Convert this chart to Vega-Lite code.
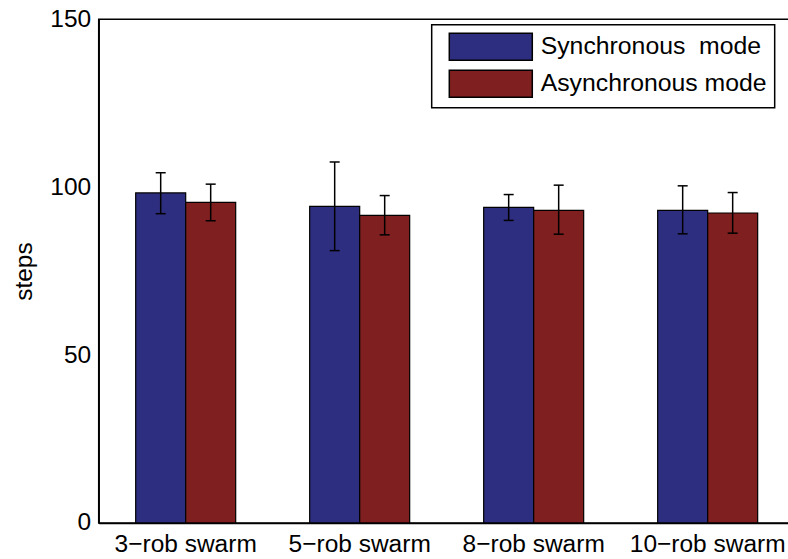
{
  "$schema": "https://vega.github.io/schema/vega-lite/v6.json",
  "autosize": {"type": "none"},
  "padding": {"left": 98.7, "top": 19.3, "right": 0, "bottom": 36.1},
  "width": 691,
  "height": 503.6,
  "background": "white",
  "config": {
    "font": "Liberation Sans",
    "view": {"stroke": "black", "strokeWidth": 1.5},
    "axis": {
      "labelFont": "Liberation Sans",
      "labelFontSize": 24.5,
      "labelColor": "black",
      "titleFont": "Liberation Sans",
      "titleFontSize": 24.5,
      "titleFontWeight": "normal",
      "titleColor": "black",
      "domainColor": "black",
      "domainWidth": 1.5,
      "ticks": false,
      "tickSize": 0,
      "grid": false
    },
    "legend": {
      "labelFont": "Liberation Sans",
      "labelFontSize": 24.8,
      "labelColor": "black",
      "strokeColor": "black",
      "strokeWidth": 1.5,
      "fillColor": "white"
    }
  },
  "data": {
    "values": [
      {"swarm": "3−rob swarm", "mode": "Synchronous\u00a0 mode", "steps": 98.3, "lo": 92.1, "hi": 104.3},
      {"swarm": "3−rob swarm", "mode": "Asynchronous mode", "steps": 95.5, "lo": 90.0, "hi": 100.9},
      {"swarm": "5−rob swarm", "mode": "Synchronous\u00a0 mode", "steps": 94.3, "lo": 81.1, "hi": 107.5},
      {"swarm": "5−rob swarm", "mode": "Asynchronous mode", "steps": 91.6, "lo": 85.8, "hi": 97.5},
      {"swarm": "8−rob swarm", "mode": "Synchronous\u00a0 mode", "steps": 94.0, "lo": 90.1, "hi": 97.8},
      {"swarm": "8−rob swarm", "mode": "Asynchronous mode", "steps": 93.1, "lo": 86.0, "hi": 100.6},
      {"swarm": "10−rob swarm", "mode": "Synchronous\u00a0 mode", "steps": 93.1, "lo": 86.1, "hi": 100.4},
      {"swarm": "10−rob swarm", "mode": "Asynchronous mode", "steps": 92.3, "lo": 86.3, "hi": 98.4}
    ]
  },
  "encoding": {
    "x": {
      "field": "swarm",
      "type": "nominal",
      "sort": ["3−rob swarm", "5−rob swarm", "8−rob swarm", "10−rob swarm"],
      "scale": {"type": "band", "paddingInner": 0.4253, "paddingOuter": 0.1983, "align": 0.536},
      "axis": {"title": null, "labelAngle": 0, "labelPadding": 10}
    },
    "xOffset": {
      "field": "mode",
      "type": "nominal",
      "sort": ["Synchronous\u00a0 mode", "Asynchronous mode"],
      "scale": {"paddingInner": 0, "paddingOuter": 0}
    }
  },
  "layer": [
    {
      "mark": {"type": "bar", "stroke": "black", "strokeWidth": 1.2, "opacity": 1},
      "encoding": {
        "y": {
          "field": "steps",
          "type": "quantitative",
          "scale": {"domain": [0, 150], "nice": false, "zero": true},
          "axis": {"values": [0, 50, 100, 150], "title": "steps", "labelPadding": 8, "titlePadding": 13}
        },
        "color": {
          "field": "mode",
          "type": "nominal",
          "sort": ["Synchronous\u00a0 mode", "Asynchronous mode"],
          "scale": {"domain": ["Synchronous\u00a0 mode", "Asynchronous mode"], "range": ["#2e2e80", "#7f1f1f"]},
          "legend": {
            "title": null,
            "orient": "none",
            "legendX": 333,
            "legendY": 5.5,
            "padding": 7.4,
            "symbolType": "M-3.074,-1H3.074V1H-3.074Z",
            "symbolSize": 729,
            "symbolOffset": 37.2,
            "symbolStrokeColor": "black",
            "symbolStrokeWidth": 1.5,
            "symbolOpacity": 1,
            "labelOffset": 35.4,
            "labelLimit": 400,
            "labelExpr": "datum.label + '\u00a0\u2009'",
            "rowPadding": 4
          }
        }
      }
    },
    {
      "mark": {"type": "rule", "color": "black", "strokeWidth": 1.5},
      "encoding": {
        "y": {"field": "lo", "type": "quantitative"},
        "y2": {"field": "hi"}
      }
    },
    {
      "mark": {"type": "tick", "color": "black", "thickness": 1.5, "size": 10, "opacity": 1},
      "encoding": {
        "y": {"field": "lo", "type": "quantitative"}
      }
    },
    {
      "mark": {"type": "tick", "color": "black", "thickness": 1.5, "size": 10, "opacity": 1},
      "encoding": {
        "y": {"field": "hi", "type": "quantitative"}
      }
    }
  ]
}
